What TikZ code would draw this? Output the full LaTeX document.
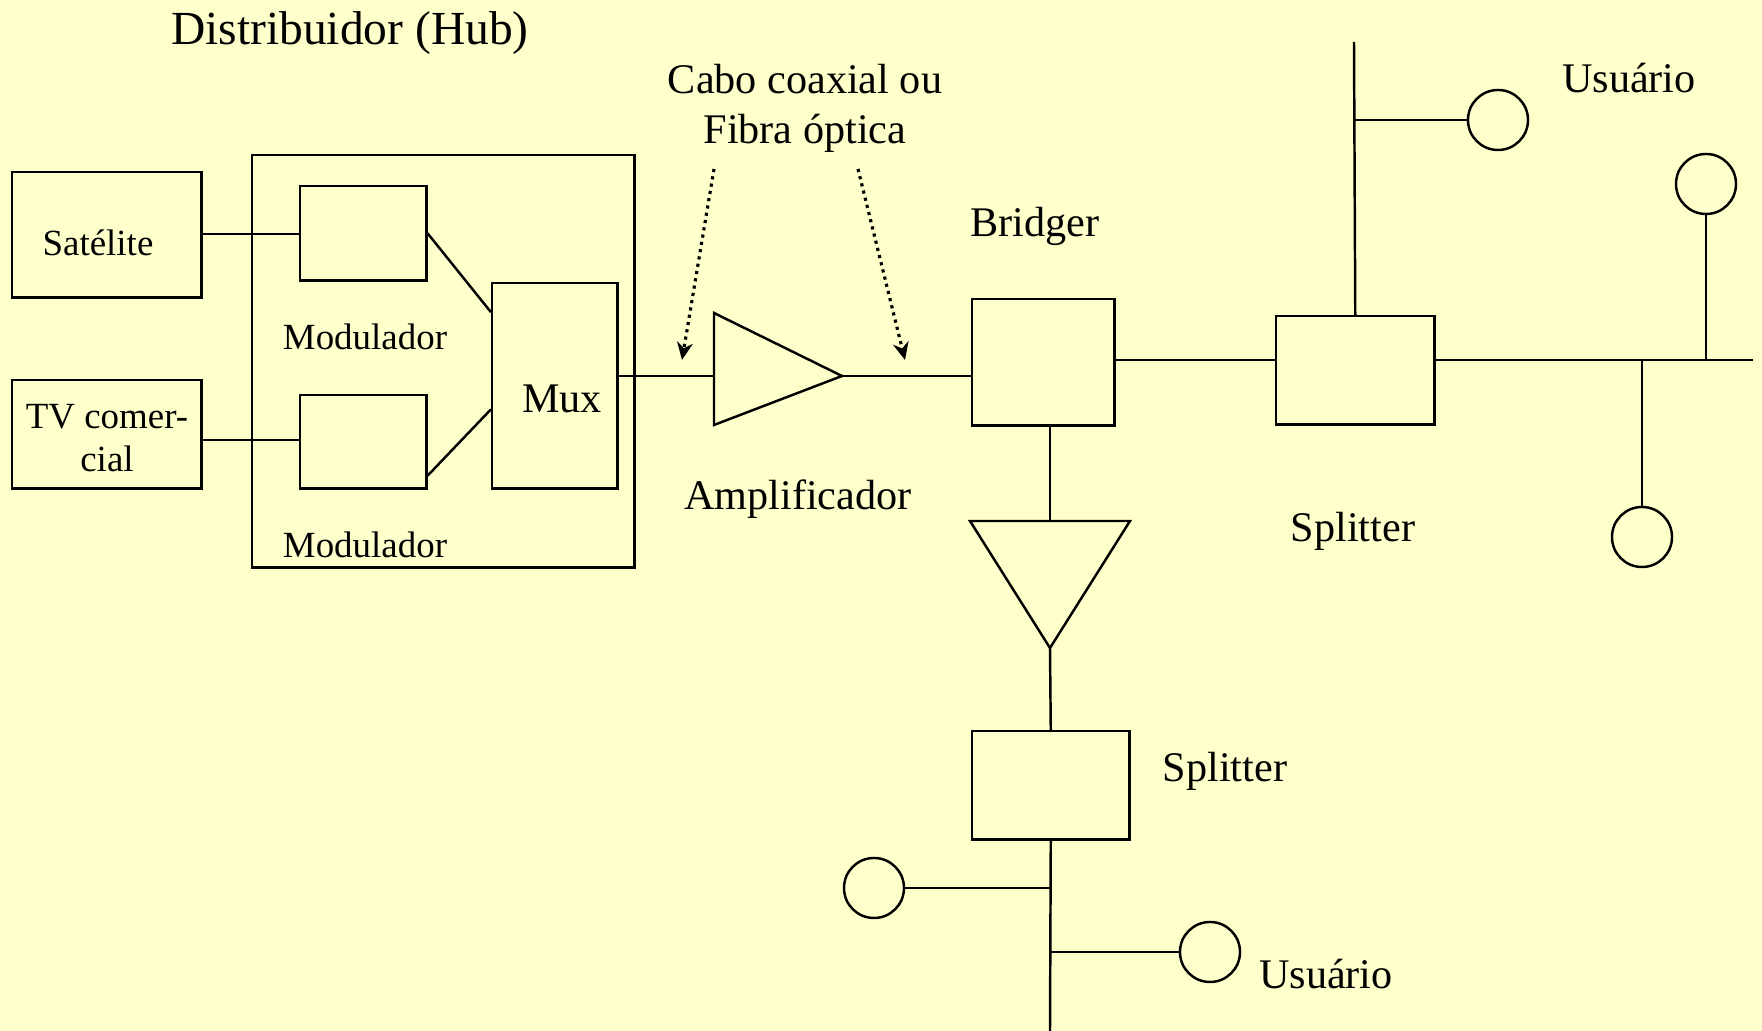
\documentclass[tikz,border=0pt]{standalone}
\usepackage{fontspec}
\setmainfont{Liberation Serif}
\usetikzlibrary{arrows.meta,calc,positioning}
\definecolor{slidebg}{RGB}{255,255,204}

\begin{document}
\begin{tikzpicture}[
      x=0.01cm, y=-0.01cm, line width=0.7pt,
      box/.style={draw, inner sep=0pt, anchor=north west},
      small/.style={font=\fontsize{10.5}{12.2}\selectfont, align=center},
      mid/.style={font=\fontsize{12}{14.2}\selectfont, align=center},
      big/.style={font=\fontsize{13.5}{16}\selectfont},
      user/.style={draw, circle, minimum size=0.6cm, inner sep=0pt},
      cabo/.style={line width=0.9pt, dash pattern=on 0.9pt off 1.2pt, -{Stealth[length=5pt, width=4.5pt]}}
    ]
      \useasboundingbox (0,0) rectangle (1762,1031);
      \fill[slidebg] (0,0) rectangle (1762,1031);

      % Distribuidor (Hub)
      \node[big] (title) at (350,33) {Distribuidor (Hub)};
      \node[box, minimum width=3.82cm, minimum height=4.12cm] (hub) at (251,154) {};
      \node[box, minimum width=1.89cm, minimum height=1.25cm] (sat) at (11,171) {};
      \node[small] (satlab) at (98,243) {Sat\'elite};
      \node[box, minimum width=1.89cm, minimum height=1.08cm] (tv) at (11,379) {};
      \node[small] (tvlab) at (107,438) {TV comer-\\cial};
      \node[box, minimum width=1.26cm, minimum height=0.94cm] (mod1) at (299,185) {};
      \node[box, minimum width=1.26cm, minimum height=0.93cm] (mod2) at (299,394) {};
      \node[box, minimum width=1.25cm, minimum height=2.05cm] (mux) at (491,282) {};
      \node[small] (modlab1) at (365,337) {Modulador};
      \node[small] (modlab2) at (365,545) {Modulador};
      \node[mid] (muxlab) at (562,399) {Mux};

      \draw (sat.east |- 0,234) -- (mod1.west |- 0,234);
      \draw (tv.east |- 0,440) -- (mod2.west |- 0,440);
      \draw (mod1.east) -- ([yshift=0.735cm]mux.west);
      \draw ([yshift=-0.34cm]mod2.east) -- ([yshift=-0.235cm]mux.west);

      % Amplificador
      \coordinate (ampin) at (714,376);
      \coordinate (ampout) at (842,376);
      \draw (ampin) -- ++(0,-63) -- (ampout) -- ($(ampin)+(0,49)$) -- cycle;
      \node[mid] (amplab) at (798,499) {Amplificador};
      \draw (mux.east |- ampin) -- (ampin);

      % Cabo / Fibra
      \node[mid] (cabolab) at (805,108) {Cabo coaxial ou\\Fibra \'optica};
      \coordinate (caboL) at (714,169);
      \coordinate (caboR) at (858,169);
      \coordinate (tipL) at (682,360);
      \coordinate (tipR) at (905,360);
      \draw[cabo] (caboL) -- (tipL);
      \draw[cabo] (caboR) -- (tipR);

      % Bridger
      \node[box, minimum width=1.42cm, minimum height=1.26cm] (bridger) at (971,298) {};
      \node[mid] (bridgerlab) at (1035,226) {Bridger};
      \draw (ampout) -- (ampout -| bridger.west);

      % Splitter direita
      \node[box, minimum width=1.58cm, minimum height=1.08cm] (spl1) at (1275,315) {};
      \node[mid] (spl1lab) at (1353,531) {Splitter};
      \coordinate (trunkend) at (1753,360);
      \coordinate (topend) at (1354,42);
      \draw (bridger.east |- trunkend) -- (spl1.west |- trunkend);
      \draw (spl1.east |- trunkend) -- (trunkend);
      \draw (spl1.north) -- (topend);
      \node[user] (u1) at (1498,120) {};
      \node[user] (u2) at (1706,184) {};
      \node[user] (u3) at (1642,537) {};
      \node[mid] (u1lab) at (1629,78) {Usu\'ario};
      \draw (spl1.north |- u1) -- (u1.west);
      \draw (u2.south) -- (u2.south |- trunkend);
      \draw (u3.north) -- (u3.north |- trunkend);

      % Ramo inferior
      \coordinate (tritop) at (1050,521);
      \coordinate (triapex) at (1050,648);
      \draw ($(tritop)+(-80,0)$) -- ($(tritop)+(80,0)$) -- (triapex) -- cycle;
      \draw (bridger.south -| tritop) -- (tritop);
      \node[box, minimum width=1.57cm, minimum height=1.08cm] (spl2) at (971,730) {};
      \node[mid] (spl2lab) at (1225,771) {Splitter};
      \draw (triapex) -- (spl2.north);
      \coordinate (botend) at (1050,1031);
      \draw (spl2.south) -- (botend);
      \node[user] (u4) at (874,888) {};
      \node[user] (u5) at (1210,952) {};
      \node[mid] (u5lab) at (1326,974) {Usu\'ario};
      \draw (spl2.south |- u4) -- (u4.east);
      \draw (spl2.south |- u5) -- (u5.west);
    \end{tikzpicture}
\end{document}
